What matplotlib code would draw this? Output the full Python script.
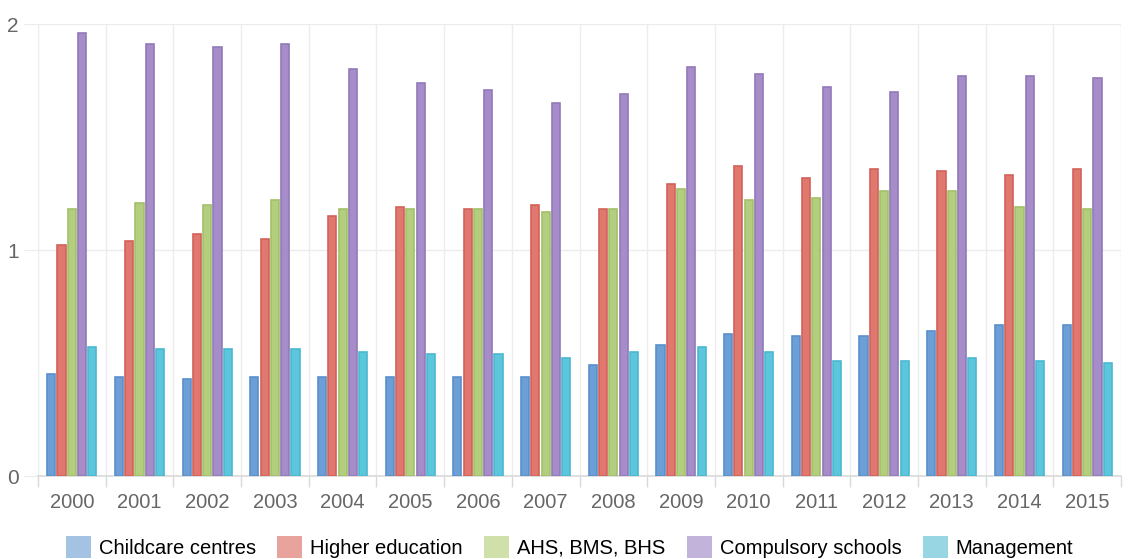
import matplotlib
matplotlib.use("Agg")
import matplotlib.pyplot as plt
import numpy as np
from matplotlib.patches import Patch

plt.rcParams['font.family'] = ['Liberation Sans', 'DejaVu Sans']

years = [str(y) for y in range(2000, 2016)]
series_names = ["Childcare centres", "Higher education", "AHS, BMS, BHS",
                "Compulsory schools", "Management"]

childcare = [0.45, 0.44, 0.43, 0.44, 0.44, 0.44, 0.44, 0.44, 0.49, 0.58,
             0.63, 0.62, 0.62, 0.64, 0.67, 0.67]
higher_ed = [1.02, 1.04, 1.07, 1.05, 1.15, 1.19, 1.18, 1.20, 1.18, 1.29,
             1.37, 1.32, 1.36, 1.35, 1.33, 1.36]
ahs_bms_bhs = [1.18, 1.21, 1.20, 1.22, 1.18, 1.18, 1.18, 1.17, 1.18, 1.27,
               1.22, 1.23, 1.26, 1.26, 1.19, 1.18]
compulsory = [1.96, 1.91, 1.90, 1.91, 1.80, 1.74, 1.71, 1.65, 1.69, 1.81,
              1.78, 1.72, 1.70, 1.77, 1.77, 1.76]
management = [0.57, 0.56, 0.56, 0.56, 0.55, 0.54, 0.54, 0.52, 0.55, 0.57,
              0.55, 0.51, 0.51, 0.52, 0.51, 0.50]

values = [childcare, higher_ed, ahs_bms_bhs, compulsory, management]
fills = ["#6c9fd6", "#e0786f", "#b4ce80", "#a68cc8", "#5cc6dc"]
edges = ["#5b8fcc", "#d2625a", "#a2c06a", "#9279b8", "#4bb8d0"]
legend_fills = ["#a4c2e2", "#e8a39c", "#cfe0ab", "#c2b3da", "#98d6e4"]

fig = plt.figure(figsize=(11.39, 5.59), dpi=100)
ax = fig.add_axes([38 / 1139, 83 / 559, (1121 - 38) / 1139, (476 - 24) / 559])

x = np.arange(len(years))
step = 0.152
width = 0.12
for i, (vals, fc, ec) in enumerate(zip(values, fills, edges)):
    ax.bar(x + (i - 2) * step, vals, width=width, color=fc, edgecolor=ec,
           linewidth=1.2, zorder=3)

ax.set_xlim(-0.5, len(years) - 0.5)
ax.set_ylim(0, 2)

# category boundaries as vertical grid lines
ax.set_xticks(np.arange(-0.5, len(years) + 0.5, 1.0), minor=True)
ax.set_xticks(x)
ax.set_xticklabels(years)
ax.grid(axis='x', which='minor', color='#ececec', linewidth=1, zorder=0)
ax.grid(axis='y', which='major', color='#ececec', linewidth=1, zorder=0)

ax.set_yticks([0, 1, 2])
ax.set_yticklabels(["0", "1", "2"])

ax.tick_params(axis='x', which='major', length=0, pad=12, labelsize=14.5,
               labelcolor='#666666')
ax.tick_params(axis='x', which='minor', length=8, color='#d9d9d9', width=1)
ax.tick_params(axis='y', which='major', length=10, color='#ececec',
               labelsize=15, labelcolor='#666666', pad=4)

for side in ['top', 'right', 'left']:
    ax.spines[side].set_visible(False)
ax.spines['bottom'].set_color('#d9d9d9')
ax.spines['bottom'].set_linewidth(1.2)

handles = [Patch(facecolor=c, edgecolor='none') for c in legend_fills]
fig.legend(handles, series_names, loc='center', ncol=5, frameon=False,
           fontsize=14.5, handlelength=1.25, handleheight=1.25,
           handletextpad=0.4, columnspacing=1.05,
           bbox_to_anchor=(0.5, 12 / 559))

fig.savefig("out.png", dpi=100, facecolor='white')
